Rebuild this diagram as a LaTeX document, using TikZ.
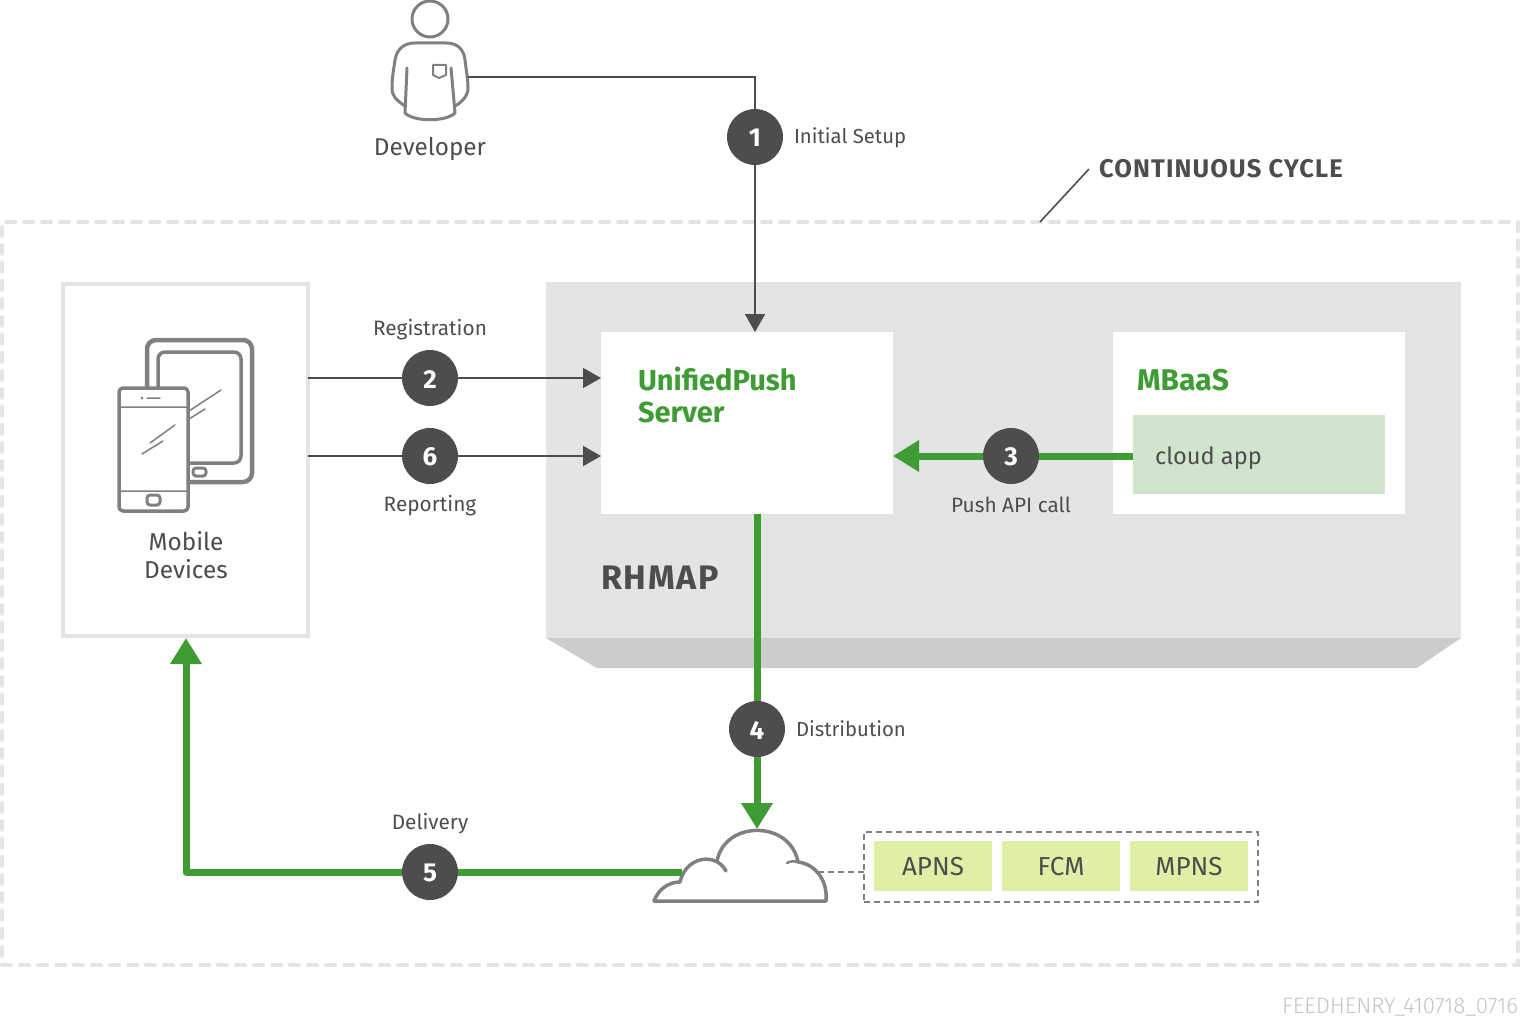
\documentclass[tikz,border=0pt]{standalone}
\usepackage{fontspec}
\setmainfont{Fira Sans}
\newfontfamily\lightfont{Fira Sans Light}
\usetikzlibrary{arrows.meta}
\definecolor{ink}{HTML}{4D4D4D}
\definecolor{icon}{HTML}{808080}
\definecolor{leaf}{HTML}{3F9C35}
\definecolor{plate}{HTML}{E4E4E4}
\definecolor{plateedge}{HTML}{CCCCCC}
\definecolor{pale}{HTML}{D0E5CC}
\definecolor{lime}{HTML}{DDF0A6}
\definecolor{stampgray}{HTML}{C4C4C4}
\newcommand{\fsz}[1]{\fontsize{#1}{#1}\selectfont}

\begin{document}
\begin{tikzpicture}[x=1pt,y=-1pt,
                    thin link/.style={draw=ink,line width=1.6pt,-{Triangle[length=18pt,width=20pt]}},
                    thin plain/.style={draw=ink,line width=1.6pt},
                    green link/.style={draw=leaf,line width=7pt,-{Triangle[length=26pt,width=30pt]}},
                    green plain/.style={draw=leaf,line width=7pt}]
  \tikzstyle{every node}=[text=ink,inner sep=0pt,outer sep=0pt]
  \tikzstyle{box}=[anchor=north west,fill=white]
  \tikzstyle{badge}=[circle,fill=ink,text=white,minimum size=56pt,text height=20pt,font=\fsz{26}\bfseries]
  \tikzstyle{caption}=[font=\fsz{20.8}]
  \tikzstyle{sidecaption}=[anchor=west,font=\fsz{20.3}]
  \tikzstyle{iconline}=[draw=icon,line width=3.5pt,line join=round,line cap=round]
  \tikzstyle{service}=[anchor=north west,fill=lime,minimum width=118pt,minimum height=50pt,text height=19pt,font=\fsz{26}]
  \tikzstyle{title}=[anchor=west,text=leaf,font=\fsz{29}\bfseries,align=left]

  \useasboundingbox (0,0) rectangle (1520,1027);

  \node[anchor=north west,draw=plate,line width=4pt,line cap=round,dash pattern=on 9pt off 9pt,
        minimum width=1516pt,minimum height=743pt] (cycle) at (2,222) {};
  \node[anchor=west,font=\fsz{25.5}\bfseries\addfontfeature{LetterSpace=4.5}] (cyclelabel) at (1099,169) {CONTINUOUS CYCLE};
  \coordinate (cycletick) at (1040,222);
  \coordinate (labeltick) at (1089,169);
  \draw[draw=ink,line width=1.6pt] (cycletick) -- (labeltick);

  \fill[plateedge] (546,638) -- (1461,638) -- (1417,668) -- (597,668) -- cycle;
  \node[anchor=north west,fill=plate,minimum width=915pt,minimum height=356pt] (rhmap) at (546,282) {};
  \node[anchor=west,font=\fsz{34}\bfseries\addfontfeature{LetterSpace=5}] (rhmaplabel) at (601,578) {RHMAP};

  \node[box,minimum width=292pt,minimum height=182pt] (unified) at (601,332) {};
  \node[title] (unifiedlabel) at (638,395) {UnifiedPush\\[3pt]Server};
  \node[box,minimum width=292pt,minimum height=182pt] (mbaas) at (1113,332) {};
  \node[title,font=\fsz{30}\bfseries] (mbaaslabel) at (1137,380) {MBaaS};
  \node[anchor=north west,fill=pale,minimum width=252pt,minimum height=79pt] (app) at (1133,415) {};
  \node[anchor=west,font=\fsz{23.6}] (applabel) at (1155,458) {cloud app};

  \node[box,draw=plate,line width=4pt,minimum width=245pt,minimum height=352pt] (mobile) at (63,284) {};
  \node[font=\fsz{24.4},align=center] (mobilelabel) at (186,555) {Mobile\\[3.6pt]Devices};

  \draw[iconline,line width=4.5pt,rounded corners=9pt] (147,340) rectangle (252,482);
  \draw[iconline,rounded corners=7pt] (158,352) rectangle (241,463);
  \draw[iconline,line width=3pt,rounded corners=3pt] (193,468) rectangle (206,476);
  \draw[iconline,line width=1.5pt] (189,411) -- (221,390) (189,419) -- (205,409);
  \draw[iconline,fill=white,rounded corners=4pt] (119,388) rectangle (188,511);
  \draw[iconline,line width=1.5pt] (119,407) -- (188,407) (119,491) -- (188,491) (147,398) -- (160,398)
       (150,443) -- (175,425) (142,454) -- (163,441);
  \fill[icon] (142,398) circle (1.5);
  \draw[iconline,line width=3pt,rounded corners=3pt] (147,495) rectangle (160,505);

  \node[minimum width=76pt,minimum height=119pt] (developer) at (430,60) {};
  \node[font=\fsz{24.3}] (developerlabel) at (430,149) {Developer};
  \draw[iconline,line width=3pt] (430,19) circle (18);
  \draw[iconline,line width=3pt] (405,106) .. controls (396,100) and (392,96) .. (392,88)
       .. controls (392,76) and (394,68) .. (395,60) .. controls (397,48) and (405,43) .. (415,43)
       -- (446,43) .. controls (458,43) and (464,50) .. (465,60) .. controls (466,70) and (468,78) .. (468,88)
       .. controls (468,96) and (462,102) .. (455,106);
  \draw[iconline,line width=3pt] (407,68) -- (405,113) .. controls (414,122) and (446,122) .. (455,113) -- (451,68);
  \draw[iconline,line width=2pt] (433,65) -- (446,65) -- (446,75) -- (439,78) -- (433,75) -- cycle;
  \coordinate (devhand) at (468,77);

  \node[minimum width=172pt,minimum height=72pt] (cloud) at (741,866) {};
  \draw[iconline] (654,901) -- (826,901) .. controls (828,880) and (815,864) .. (798,862)
       .. controls (790,820) and (725,820) .. (717,861);
  \draw[iconline] (726,871) .. controls (716,852) and (686,856) .. (680,882)
       .. controls (668,882) and (658,890) .. (654,901);
  \draw[iconline,line width=2.5pt] (787,863) .. controls (790,861) and (794,861) .. (798,862);
  \coordinate (cloudtop) at (757,829);
  \coordinate (cloudleft) at (682,872);
  \coordinate (cloudright) at (818,872);
  \coordinate (turn) at (186,872);

  \node[anchor=north west,draw=icon,line width=1.6pt,dash pattern=on 6pt off 4pt,
        minimum width=394pt,minimum height=70pt] (services) at (864,832) {};
  \node[service] (apns) at (874,841) {APNS};
  \node[service] (fcm) at (1002,841) {FCM};
  \node[service] (mpns) at (1130,841) {MPNS};
  \draw[draw=icon,line width=1.6pt,dash pattern=on 6pt off 4pt] (cloudright) -- (cloudright -| services.west);

  \node[badge] (one) at (755,137) {1};
  \node[badge] (two) at (430,378) {2};
  \node[badge] (six) at (430,456) {6};
  \node[badge] (three) at (1011,456) {3};
  \node[badge] (four) at (757,729) {4};
  \node[badge] (five) at (430,872) {5};

  \node[sidecaption] (setuplabel) at (794,138) {Initial Setup};
  \node[caption] (reglabel) at (430,330) {Registration};
  \node[caption] (replabel) at (430,506) {Reporting};
  \node[caption] (pushlabel) at (1011,505) {Push API call};
  \node[sidecaption] (distlabel) at (796,729) {Distribution};
  \node[caption] (dellabel) at (430,824) {Delivery};

  \path[thin plain] (devhand) -| (one);
  \path[thin link] (one) -- (one |- unified.north);
  \path[thin plain] (mobile.east |- two) -- (two);
  \path[thin link] (two) -- (two -| unified.west);
  \path[thin plain] (mobile.east |- six) -- (six);
  \path[thin link] (six) -- (six -| unified.west);
  \path[green plain] (three -| app.west) -- (three);
  \path[green link] (three) -- (three -| unified.east);
  \path[green plain] (four |- unified.south) -- (four);
  \path[green link] (four) -- (cloudtop);
  \path[green plain] (cloudleft) -- (five);
  \path[green link,line join=round,shorten >=2pt] (five) -- (turn) -- (turn |- mobile.south);

  \node[anchor=east,text=stampgray,font=\fsz{22.4}\lightfont] (stamp) at (1518,1007) {FEEDHENRY\_410718\_0716};
\end{tikzpicture}
\end{document}
